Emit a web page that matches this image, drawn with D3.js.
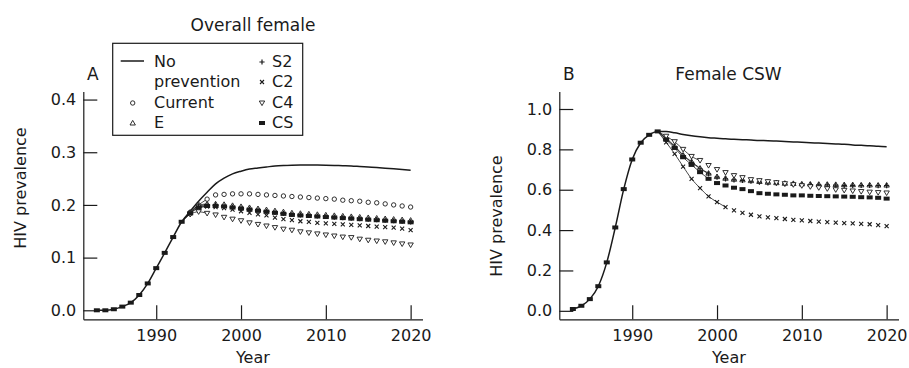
<!DOCTYPE html>
<html>
<head>
<meta charset="utf-8">
<script src="https://cdn.jsdelivr.net/npm/d3@7"></script>
<style>
  body { margin: 0; background: #fff; }
  svg { display: block; font-family: "DejaVu Sans", sans-serif; }
</style>
</head>
<body>
<svg id="chart" width="909" height="368"></svg>
<script>
// shared rise, every scenario identical until 1993
const yearsEarly = [1983, 1984, 1985, 1986, 1987, 1988, 1989, 1990, 1991, 1992, 1993];
const femaleEarly = [0.000, 0.000, 0.002, 0.007, 0.0145, 0.029, 0.051, 0.080, 0.109, 0.139, 0.168];
const cswEarly = [0.009, 0.025, 0.058, 0.122, 0.240, 0.413, 0.603, 0.750, 0.833, 0.872, 0.889];

const yearsLate = [1994, 1995, 1996, 1997, 1998, 1999, 2000, 2001, 2002, 2003, 2004, 2005, 2006,
  2007, 2008, 2009, 2010, 2011, 2012, 2013, 2014, 2015, 2016, 2017, 2018, 2019, 2020];

// panel A, overall female
const noPrevA = [0.188, 0.207, 0.224, 0.240, 0.251, 0.259, 0.264, 0.268, 0.270, 0.272, 0.274, 0.275, 0.2755,
  0.2757, 0.2757, 0.2757, 0.2755, 0.275, 0.2745, 0.274, 0.273, 0.272, 0.271, 0.2698, 0.2685, 0.2672, 0.266];
const currentA = [0.186, 0.200, 0.211, 0.219, 0.220, 0.221, 0.221, 0.221, 0.220, 0.219, 0.218, 0.217, 0.216,
  0.215, 0.214, 0.213, 0.212, 0.211, 0.209, 0.208, 0.207, 0.205, 0.204, 0.202, 0.200, 0.198, 0.196];
const eA = [0.186, 0.199, 0.202, 0.202, 0.201, 0.199, 0.197, 0.195, 0.193, 0.191, 0.189, 0.187, 0.185,
  0.184, 0.183, 0.182, 0.181, 0.180, 0.179, 0.178, 0.177, 0.176, 0.175, 0.174, 0.173, 0.172, 0.171];
const s2A = [0.185, 0.197, 0.200, 0.200, 0.198, 0.196, 0.194, 0.192, 0.190, 0.188, 0.186, 0.184, 0.182,
  0.181, 0.180, 0.179, 0.178, 0.177, 0.176, 0.175, 0.174, 0.173, 0.172, 0.171, 0.170, 0.169, 0.168];
const c2A = [0.184, 0.194, 0.197, 0.196, 0.194, 0.191, 0.188, 0.185, 0.182, 0.180, 0.176, 0.173, 0.171,
  0.169, 0.168, 0.166, 0.165, 0.164, 0.163, 0.162, 0.161, 0.160, 0.159, 0.158, 0.157, 0.155, 0.152];
const c4A = [0.182, 0.187, 0.184, 0.181, 0.1765, 0.173, 0.170, 0.166, 0.163, 0.160, 0.157, 0.154, 0.152,
  0.149, 0.147, 0.145, 0.143, 0.141, 0.139, 0.138, 0.135, 0.133, 0.1315, 0.130, 0.128, 0.126, 0.124];
const csA = [0.184, 0.195, 0.198, 0.198, 0.197, 0.195, 0.193, 0.191, 0.189, 0.187, 0.185, 0.183, 0.181,
  0.180, 0.179, 0.178, 0.177, 0.176, 0.175, 0.174, 0.173, 0.172, 0.171, 0.170, 0.169, 0.168, 0.167];

// panel B, female CSW
const noPrevB = [0.888, 0.882, 0.874, 0.867, 0.862, 0.858, 0.855, 0.852, 0.850, 0.848, 0.846, 0.844, 0.843,
  0.841, 0.839, 0.837, 0.835, 0.833, 0.831, 0.829, 0.827, 0.825, 0.822, 0.820, 0.818, 0.815, 0.813];
const eB = [0.855, 0.817, 0.772, 0.739, 0.707, 0.682, 0.665, 0.657, 0.652, 0.649, 0.645, 0.641, 0.637,
  0.635, 0.632, 0.631, 0.629, 0.628, 0.627, 0.627, 0.626, 0.625, 0.625, 0.624, 0.624, 0.623, 0.623];
const s2B = [0.852, 0.814, 0.769, 0.736, 0.704, 0.679, 0.662, 0.654, 0.649, 0.646, 0.642, 0.638, 0.634,
  0.632, 0.629, 0.628, 0.626, 0.625, 0.624, 0.624, 0.623, 0.622, 0.622, 0.621, 0.621, 0.620, 0.620];
const c2B = [0.835, 0.778, 0.715, 0.654, 0.608, 0.567, 0.539, 0.514, 0.498, 0.485, 0.476, 0.468, 0.463,
  0.459, 0.455, 0.451, 0.448, 0.445, 0.442, 0.439, 0.437, 0.435, 0.433, 0.431, 0.429, 0.425, 0.420];
const c4B = [0.865, 0.838, 0.800, 0.765, 0.745, 0.720, 0.700, 0.685, 0.670, 0.660, 0.650, 0.645, 0.640,
  0.635, 0.630, 0.625, 0.620, 0.615, 0.610, 0.605, 0.600, 0.597, 0.594, 0.591, 0.588, 0.586, 0.584];
const csB = [0.848, 0.807, 0.761, 0.723, 0.687, 0.654, 0.633, 0.621, 0.610, 0.603, 0.593, 0.583, 0.580,
  0.577, 0.575, 0.572, 0.572, 0.570, 0.569, 0.568, 0.567, 0.566, 0.565, 0.563, 0.562, 0.560, 0.556];

const xTicks = [1990, 2000, 2010, 2020];
const yTicksA = [0, 0.1, 0.2, 0.3, 0.4];
const yTicksB = [0, 0.2, 0.4, 0.6, 0.8, 1.0];

const svg = d3.select("#chart");
const FONT = "DejaVu Sans, sans-serif";
const INK = "#1a1a1a";

// marker shapes
function marker(g, kind, cx, cy) {
  if (kind === "circle") {
    g.append("circle").attr("cx", cx).attr("cy", cy).attr("r", 2.2)
      .attr("fill", "#fff").attr("stroke", INK).attr("stroke-width", 0.9);
  } else if (kind === "tri" || kind === "triDown") {
    const s = kind === "tri" ? 1 : -1;
    g.append("path")
      .attr("d", `M${cx},${cy - 2.6 * s}L${cx + 2.7},${cy + 2 * s}L${cx - 2.7},${cy + 2 * s}Z`)
      .attr("fill", "#fff").attr("stroke", INK).attr("stroke-width", 0.9);
  } else if (kind === "plus") {
    g.append("path").attr("d", `M${cx - 2.6},${cy}H${cx + 2.6}M${cx},${cy - 2.6}V${cy + 2.6}`)
      .attr("stroke", INK).attr("stroke-width", 1.2);
  } else if (kind === "cross") {
    g.append("path").attr("d", `M${cx - 2},${cy - 2}L${cx + 2},${cy + 2}M${cx - 2},${cy + 2}L${cx + 2},${cy - 2}`)
      .attr("stroke", INK).attr("stroke-width", 1.1);
  } else if (kind === "rect") {
    g.append("rect").attr("x", cx - 3).attr("y", cy - 2).attr("width", 6).attr("height", 4)
      .attr("fill", INK);
  }
}

function drawPanel(cfg) {
  const x = d3.scaleLinear().domain([1981.4, 2021.4]).range([cfg.left, cfg.left + 339.2]);
  const y = d3.scaleLinear().domain(cfg.yDomain).range([319.3, 91.5]);
  const g = svg.append("g");

  const xa = g.append("g").attr("transform", "translate(0,319.3)")
    .call(d3.axisBottom(x).tickValues(xTicks).tickFormat(d3.format("d"))
      .tickSizeInner(-14).tickSizeOuter(0).tickPadding(10));
  const ya = g.append("g").attr("transform", `translate(${cfg.left},0)`)
    .call(d3.axisLeft(y).tickValues(cfg.yTicks).tickFormat(d3.format(".1f"))
      .tickSizeInner(-14).tickSizeOuter(0).tickPadding(7));
  [xa, ya].forEach(a => {
    a.attr("font-size", 16).attr("font-family", FONT).attr("color", INK);
    a.selectAll("path, line").attr("stroke-width", 1.2);
  });

  const cx = cfg.left + 169.6;
  g.append("text").attr("x", cx).attr("y", 363).attr("text-anchor", "middle")
    .attr("font-size", 16).attr("fill", INK).text("Year");
  g.append("text").attr("transform", `translate(${cfg.left - 57},${cfg.labelY}) rotate(-90)`)
    .attr("text-anchor", "middle").attr("font-size", 16).attr("fill", INK).text("HIV prevalence");
  g.append("text").attr("x", cfg.titleX).attr("y", cfg.titleY).attr("text-anchor", "middle")
    .attr("font-size", 17).attr("fill", INK).text(cfg.title);
  g.append("text").attr("x", cfg.left + 9.5).attr("y", 80).attr("text-anchor", "middle")
    .attr("font-size", 17).attr("fill", INK).text(cfg.letter);

  const line = d3.line().x(d => x(d[0])).y(d => y(d[1])).curve(d3.curveMonotoneX);
  const early = yearsEarly.map((yr, i) => [yr, cfg.early[i]]);

  // thin branch lines out of the 1993 peak
  cfg.series.forEach(s => {
    const pts = [early[early.length - 1]].concat(
      yearsLate.map((yr, i) => [yr, s.values[i]]).filter(d => d[0] <= s.lineTo));
    g.append("path").attr("d", line(pts)).attr("fill", "none")
      .attr("stroke", INK).attr("stroke-width", 0.8);
  });

  // no-prevention curve
  const np = early.concat(yearsLate.map((yr, i) => [yr, cfg.noPrev[i]]));
  g.append("path").attr("d", line(np)).attr("fill", "none")
    .attr("stroke", INK).attr("stroke-width", 1.5);

  // markers
  const mg = g.append("g");
  cfg.series.forEach(s => {
    yearsLate.forEach((yr, i) => marker(mg, s.kind, x(yr), y(s.values[i])));
  });
  early.forEach(d => marker(mg, "rect", x(d[0]), y(d[1])));
}

drawPanel({
  left: 83.3, yDomain: [-0.0171, 0.4153], yTicks: yTicksA, labelY: 188,
  title: "Overall female", titleX: 253, titleY: 31, letter: "A",
  early: femaleEarly, noPrev: noPrevA,
  series: [
    { kind: "circle", values: currentA, lineTo: 1996 },
    { kind: "tri", values: eA, lineTo: 1996 },
    { kind: "plus", values: s2A, lineTo: 1996 },
    { kind: "cross", values: c2A, lineTo: 1996 },
    { kind: "triDown", values: c4A, lineTo: 1996 },
    { kind: "rect", values: csA, lineTo: 1996 }
  ]
});

drawPanel({
  left: 559.3, yDomain: [-0.042, 1.0867], yTicks: yTicksB, labelY: 216,
  title: "Female CSW", titleX: 728.5, titleY: 80, letter: "B",
  early: cswEarly, noPrev: noPrevB,
  series: [
    { kind: "tri", values: eB, lineTo: 1999 },
    { kind: "plus", values: s2B, lineTo: 1999 },
    { kind: "cross", values: c2B, lineTo: 2001 },
    { kind: "triDown", values: c4B, lineTo: 1998 },
    { kind: "rect", values: csB, lineTo: 1999 }
  ]
});

// legend for panel A
const legendLeft = [["line", ["No", "prevention"]], ["circle", ["Current"]], ["tri", ["E"]]];
const legendRight = [["plus", "S2"], ["cross", "C2"], ["triDown", "C4"], ["rect", "CS"]];
const lg = svg.append("g");
lg.append("rect").attr("x", 112.7).attr("y", 43.3).attr("width", 190).attr("height", 92)
  .attr("fill", "#fff").attr("stroke", INK).attr("stroke-width", 1.2);
const rowY = [67, 87, 108, 128];
let r = 0;
legendLeft.forEach(([kind, lines]) => {
  const by = rowY[r];
  if (kind === "line") {
    lg.append("line").attr("x1", 120.7).attr("x2", 144).attr("y1", by - 6).attr("y2", by - 6)
      .attr("stroke", INK).attr("stroke-width", 1.5);
  } else {
    marker(lg, kind, 132.7, by - 5);
  }
  lines.forEach((t, j) => {
    lg.append("text").attr("x", 154).attr("y", rowY[r + j]).attr("font-size", 16)
      .attr("fill", INK).text(t);
  });
  r += lines.length;
});
legendRight.forEach(([kind, t], i) => {
  marker(lg, kind, 262, rowY[i] - 5);
  lg.append("text").attr("x", 272).attr("y", rowY[i]).attr("font-size", 16)
    .attr("fill", INK).text(t);
});
</script>
</body>
</html>
